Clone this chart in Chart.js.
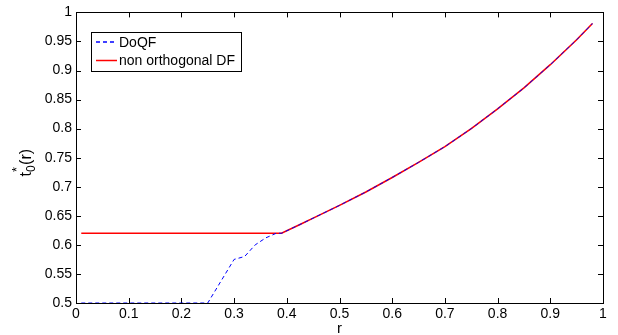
<!DOCTYPE html>
<html>
<head>
<meta charset="utf-8">
<script src="https://cdn.jsdelivr.net/npm/chart.js@4/dist/chart.umd.min.js"></script>
<style>
  html, body { margin: 0; padding: 0; background: #fff; }
  #grafica { display: block; }
</style>
</head>
<body>
<canvas id="grafica" width="618" height="335"></canvas>
<script>
// datos
const rDoQF = [0.01, 0.25, 0.27, 0.29, 0.30, 0.32, 0.34, 0.36, 0.38, 0.39, 0.425, 0.45, 0.5, 0.55, 0.6, 0.65, 0.7, 0.75, 0.8, 0.85, 0.9, 0.95, 0.98];
const tDoQF = [0.5, 0.5, 0.53, 0.56, 0.575, 0.58, 0.60, 0.612, 0.62, 0.62, 0.635, 0.646, 0.668, 0.691, 0.716, 0.742, 0.769, 0.800, 0.834, 0.870, 0.910, 0.953, 0.981];

const rNoOrt = [0.01, 0.39, 0.425, 0.45, 0.5, 0.55, 0.6, 0.65, 0.7, 0.75, 0.8, 0.85, 0.9, 0.95, 0.98];
const tNoOrt = [0.62, 0.62, 0.635, 0.646, 0.668, 0.691, 0.716, 0.742, 0.769, 0.800, 0.834, 0.870, 0.910, 0.953, 0.981];

const ticksX = [0, 0.1, 0.2, 0.3, 0.4, 0.5, 0.6, 0.7, 0.8, 0.9, 1];
const ticksY = [0.5, 0.55, 0.6, 0.65, 0.7, 0.75, 0.8, 0.85, 0.9, 0.95, 1];

const etiquetas = ["DoQF", "non orthogonal DF"];
const FUENTE = '"Liberation Sans", Arial, Helvetica, sans-serif';

const puntos = (xs, ys) => xs.map((x, i) => ({ x, y: ys[i] }));

// === marco estilo matlab: caja, marcas hacia dentro, leyenda y ejes ===
const marcoMatlab = {
  id: "marcoMatlab",
  beforeDatasetsDraw(chart) {
    const { ctx, chartArea: a, scales } = chart;
    ctx.save();
    ctx.strokeStyle = "#000";
    ctx.lineWidth = 1;
    ctx.beginPath();
    ticksX.forEach(v => {
      const px = Math.round(scales.x.getPixelForValue(v)) + 0.5;
      ctx.moveTo(px, a.bottom); ctx.lineTo(px, a.bottom - 5);
      ctx.moveTo(px, a.top); ctx.lineTo(px, a.top + 5);
    });
    ticksY.forEach(v => {
      const py = Math.round(scales.y.getPixelForValue(v)) + 0.5;
      ctx.moveTo(a.left, py); ctx.lineTo(a.left + 5, py);
      ctx.moveTo(a.right, py); ctx.lineTo(a.right - 5, py);
    });
    ctx.stroke();
    ctx.strokeRect(Math.round(a.left) + 0.5, Math.round(a.top) + 0.5,
                   Math.round(a.right - a.left), Math.round(a.bottom - a.top));
    ctx.restore();
  },
  afterDraw(chart) {
    const { ctx, chartArea: a } = chart;
    ctx.save();

    // leyenda
    const lx = 91, ly = 32, lw = 150, lh = 39;
    ctx.fillStyle = "#fff";
    ctx.fillRect(lx, ly, lw, lh);
    ctx.strokeStyle = "#000";
    ctx.lineWidth = 1;
    ctx.strokeRect(lx + 0.5, ly + 0.5, lw, lh);
    ctx.font = "14px " + FUENTE;
    ctx.textBaseline = "middle";
    chart.data.datasets.forEach((ds, i) => {
      const y = ly + 10 + i * 18.5;
      ctx.strokeStyle = ds.borderColor;
      ctx.lineWidth = 1.5;
      ctx.setLineDash(ds.borderDash || []);
      ctx.beginPath();
      ctx.moveTo(96, y); ctx.lineTo(117, y);
      ctx.stroke();
      ctx.setLineDash([]);
      ctx.fillStyle = "#000";
      ctx.fillText(ds.label, 119, y + 1);
    });

    // título eje x
    ctx.fillStyle = "#000";
    ctx.textAlign = "center";
    ctx.textBaseline = "alphabetic";
    ctx.font = "15px " + FUENTE;
    ctx.fillText("r", (a.left + a.right) / 2, 333);

    // título eje y: t*_0(r)
    ctx.translate(31, 163);
    ctx.rotate(-Math.PI / 2);
    ctx.textAlign = "left";
    const partes = [["t", 16, 0], ["0", 12, 4], ["(r)", 16, 0]];
    let total = 0;
    partes.forEach(p => { ctx.font = p[1] + "px " + FUENTE; total += ctx.measureText(p[0]).width; });
    let x = -total / 2;
    partes.forEach((p, i) => {
      ctx.font = p[1] + "px " + FUENTE;
      ctx.fillText(p[0], x, p[2]);
      if (i === 1) {
        ctx.font = "13px " + FUENTE;
        ctx.fillText("*", x, -10);
      }
      x += ctx.measureText(p[0]).width;
    });
    ctx.restore();
  }
};

new Chart(document.getElementById("grafica").getContext("2d"), {
  type: "line",
  data: {
    datasets: [
      {
        label: etiquetas[0],
        data: puntos(rDoQF, tDoQF),
        borderColor: "#0000ff",
        borderWidth: 1,
        borderDash: [4, 3],
        pointRadius: 0,
        fill: false,
        tension: 0
      },
      {
        label: etiquetas[1],
        data: puntos(rNoOrt, tNoOrt),
        borderColor: "#ff0000",
        borderWidth: 1.6,
        pointRadius: 0,
        fill: false,
        tension: 0
      }
    ]
  },
  options: {
    responsive: false,
    animation: false,
    events: [],
    layout: { padding: { left: 0, right: 15, top: 11, bottom: 0 } },
    plugins: { legend: { display: false }, tooltip: { enabled: false } },
    scales: {
      x: {
        type: "linear",
        min: 0, max: 1,
        afterBuildTicks: s => { s.ticks = ticksX.map(v => ({ value: v })); },
        afterFit: s => { s.height = 32; },
        grid: { display: false, drawTicks: false },
        border: { display: false },
        ticks: {
          color: "#000", padding: 3, maxRotation: 0, autoSkip: false,
          font: { family: FUENTE, size: 14 },
          callback: v => String(+v.toFixed(2))
        }
      },
      y: {
        type: "linear",
        min: 0.5, max: 1,
        afterBuildTicks: s => { s.ticks = ticksY.map(v => ({ value: v })); },
        afterFit: s => { s.width = 76; },
        grid: { display: false, drawTicks: false },
        border: { display: false },
        ticks: {
          color: "#000", padding: 4, autoSkip: false,
          font: { family: FUENTE, size: 14 },
          callback: v => String(+v.toFixed(2))
        }
      }
    }
  },
  plugins: [marcoMatlab]
});
</script>
</body>
</html>
